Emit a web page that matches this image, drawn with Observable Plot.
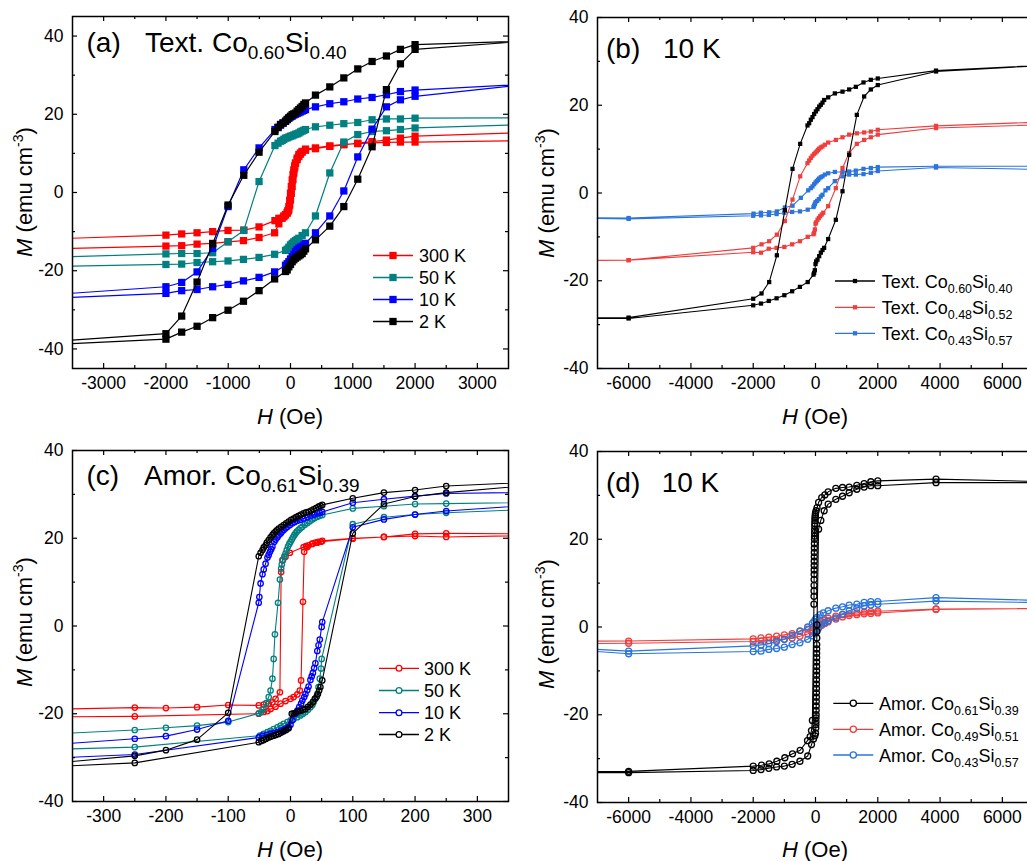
<!DOCTYPE html>
<html><head><meta charset="utf-8">
<script src="https://cdn.jsdelivr.net/npm/d3@7"></script>
<script src="https://cdn.jsdelivr.net/npm/@observablehq/plot@0.6"></script>
<style>
html,body{margin:0;padding:0;background:#fff;}
body{width:1027px;height:861px;overflow:hidden;position:relative;font-family:"Liberation Sans",Arial,sans-serif;}
.pan{position:absolute;}
</style></head><body>
<script>
const FONT = '"Liberation Sans", Arial, sans-serif';

// ---------- Panel (a): Text. Co0.60Si0.40, squares ----------
const aXMajor = [-3000,-2000,-1000,0,1000,2000,3000];
const aXMinor = [-2500,-1500,-500,500,1500,2500];
const aYMajor = [-40,-20,0,20,40];
const aYMinor = [-30,-10,10,30];
const aLegend = ["300 K","50 K","10 K","2 K"];

const a300Desc = [[3870,15.4],[2000,14.4],[1765,13.9],[1540,13.4],[1310,13.0],[1080,12.6],[856,12.2],[631,11.8],[401,11.2],[241,10.8],[187,10.3],[160,9.8],[134,9.2],[107,8.4],[80,7.5],[67,6.8],[53,5.8],[40,4.6],[27,3.2],[13,1.5],[0,-0.2],[-13,-2.0],[-27,-3.6],[-40,-4.6],[-53,-5.3],[-80,-5.7],[-107,-6.0],[-187,-6.6],[-250,-7.2],[-505,-8.8],[-750,-9.6],[-1003,-9.7],[-1250,-10.0],[-1500,-10.3],[-1747,-10.6],[-2000,-10.9],[-6000,-13.0]];
const a300Asc = [[-6000,-15.3],[-2000,-13.7],[-1747,-13.6],[-1500,-13.2],[-1250,-13.0],[-1003,-12.6],[-755,-12.3],[-505,-11.5],[-255,-10.3],[-187,-8.0],[-134,-6.6],[-107,-6.2],[-80,-5.7],[-53,-5.1],[-40,-4.8],[-27,-4.4],[-13,-3.2],[0,-1.9],[13,-0.2],[27,1.5],[40,3.3],[53,5.0],[67,6.3],[80,7.5],[107,8.8],[134,9.7],[160,10.1],[187,10.5],[241,11.1],[401,11.4],[631,11.9],[856,12.3],[1080,12.5],[1310,12.7],[1540,12.8],[1765,12.9],[2000,12.9],[3870,13.3]];
const a50Desc = [[3870,19.1],[2000,19.0],[1765,18.8],[1540,18.8],[1310,18.6],[1080,17.9],[856,17.6],[631,17.2],[401,16.8],[241,16.1],[214,15.9],[187,15.7],[160,15.5],[134,15.2],[107,15.0],[80,14.9],[53,14.7],[27,14.5],[0,14.4],[-27,14.2],[-53,14.0],[-80,13.9],[-107,13.6],[-134,13.3],[-160,13.1],[-200,12.6],[-250,12.0],[-505,2.8],[-750,-9.7],[-1003,-12.6],[-1250,-15.4],[-1500,-15.6],[-1747,-15.6],[-2000,-15.7],[-6000,-17.6]];
const a50Asc = [[-6000,-19.5],[-2000,-18.4],[-1747,-18.3],[-1500,-17.9],[-1250,-17.7],[-1003,-17.5],[-755,-17.1],[-505,-16.6],[-255,-15.8],[-80,-14.8],[-53,-14.5],[-27,-14.0],[0,-13.4],[27,-13.0],[53,-12.6],[80,-12.3],[107,-12.0],[134,-11.7],[187,-11.0],[241,-10.3],[401,-6.0],[631,5.0],[856,12.9],[1080,14.8],[1310,15.6],[1540,15.8],[1765,16.1],[2000,16.5],[3870,17.4]];
const a10Desc = [[3870,27.8],[2000,26.2],[1765,25.8],[1540,25.0],[1310,24.3],[1080,23.9],[856,23.2],[631,22.7],[401,21.9],[241,21.2],[214,21.0],[187,20.8],[160,20.6],[134,20.4],[107,20.2],[80,20.0],[53,19.8],[27,19.5],[0,19.3],[-27,19.0],[-53,18.6],[-80,18.2],[-120,17.7],[-160,17.2],[-200,16.7],[-250,16.1],[-505,11.4],[-750,5.8],[-1003,-3.6],[-1250,-14.3],[-1500,-20.3],[-1747,-23.0],[-2000,-24.1],[-6000,-28.5]];
const a10Asc = [[-6000,-28.5],[-2000,-25.8],[-1747,-25.1],[-1500,-24.8],[-1250,-24.1],[-1003,-23.5],[-755,-22.6],[-505,-21.7],[-255,-20.3],[-80,-18.6],[-53,-18.2],[-27,-17.7],[0,-17.0],[27,-16.4],[53,-15.8],[80,-15.1],[107,-14.6],[134,-14.2],[160,-14.0],[187,-13.8],[214,-13.4],[241,-13.0],[401,-10.3],[631,-6.0],[856,0.4],[1080,9.1],[1310,16.2],[1540,21.9],[1765,23.7],[2000,24.6],[3870,27.8]];
const a2Desc = [[3870,38.8],[2000,37.8],[1765,36.6],[1540,34.9],[1310,33.5],[1080,31.6],[856,29.3],[631,27.0],[401,24.9],[241,22.9],[214,22.5],[187,22.0],[160,21.6],[134,21.2],[107,20.8],[80,20.3],[53,20.1],[27,19.9],[0,19.5],[-27,19.1],[-53,18.7],[-80,18.2],[-120,17.8],[-160,17.4],[-200,16.6],[-250,15.6],[-505,10.3],[-750,4.4],[-1003,-3.2],[-1250,-13.1],[-1500,-22.9],[-1747,-31.6],[-2000,-36.1],[-6000,-40.5]];
const a2Asc = [[-6000,-40.5],[-2000,-37.5],[-1747,-35.7],[-1500,-34.2],[-1250,-32.0],[-1003,-30.1],[-755,-27.8],[-505,-25.1],[-255,-22.1],[-80,-20.2],[-53,-19.8],[-27,-19.0],[0,-18.4],[27,-17.7],[53,-17.2],[80,-16.8],[107,-16.5],[134,-16.2],[160,-15.9],[187,-15.6],[214,-15.0],[241,-14.4],[401,-12.1],[631,-8.6],[856,-3.6],[1080,3.4],[1310,11.7],[1540,26.3],[1765,32.9],[2000,36.6],[3870,38.8]];

// ---------- Panel (b): Text. series at 10 K ----------
const bXMajor = [-6000,-4000,-2000,0,2000,4000,6000];
const bXMinor = [-5000,-3000,-1000,1000,3000,5000];
const bYMajor = [-40,-20,0,20,40];
const bYMinor = [-30,-10,10,30];
const bLegend = [["Text. Co","0.60","Si","0.40"],["Text. Co","0.48","Si","0.52"],["Text. Co","0.43","Si","0.57"]];

const bBlackDesc = [[10000,30.1],[3870,27.9],[2000,26.1],[1776,25.8],[1541,25.2],[1295,24.2],[1081,23.6],[867,23.1],[621,22.7],[407,21.8],[278,21.2],[225,20.6],[171,20.1],[118,19.7],[64,19.1],[11,18.6],[-43,18.0],[-96,17.3],[-150,16.7],[-203,15.9],[-257,15.4],[-492,11.2],[-738,5.5],[-984,-3.9],[-1241,-14.2],[-1487,-20.3],[-1733,-22.9],[-2000,-24.1],[-6000,-28.4],[-10000,-28.5]];
const bBlackAsc = [[-10000,-28.5],[-6000,-28.6],[-2000,-25.6],[-1750,-25.2],[-1500,-24.6],[-1250,-24.0],[-1000,-23.3],[-750,-22.4],[-500,-21.4],[-250,-20.3],[-64,-18.6],[-43,-18.2],[-21,-17.6],[0,-16.2],[21,-15.6],[64,-15.2],[118,-14.4],[171,-13.6],[225,-13.0],[278,-12.5],[407,-10.5],[653,-6.1],[867,0.4],[1081,8.7],[1327,17.8],[1562,22.0],[1776,23.6],[2000,24.6],[3870,27.7],[10000,30.1]];
const bRedDesc = [[10000,16.9],[3870,15.3],[2000,14.4],[1776,14.0],[1562,13.8],[1327,13.6],[1081,13.3],[867,12.7],[653,12.1],[407,11.5],[300,11.0],[225,10.6],[171,10.4],[118,10.1],[80,9.8],[43,9.5],[0,9.2],[-43,8.9],[-96,8.5],[-150,8.0],[-203,7.4],[-257,6.8],[-492,3.8],[-738,-1.5],[-984,-6.4],[-1241,-9.5],[-1487,-11.0],[-1733,-11.7],[-2000,-12.5],[-6000,-15.3],[-10000,-15.5]];
const bRedAsc = [[-10000,-15.5],[-6000,-15.3],[-2000,-13.5],[-1750,-13.6],[-1500,-12.7],[-1250,-12.5],[-1000,-12.3],[-750,-11.7],[-500,-11.0],[-250,-10.0],[-64,-9.4],[-43,-9.1],[-21,-8.3],[0,-7.0],[21,-6.7],[64,-6.1],[107,-5.7],[150,-5.3],[200,-4.9],[250,-4.5],[407,-3.0],[653,1.1],[867,5.7],[1081,9.1],[1327,11.2],[1562,12.1],[1776,12.7],[2000,13.3],[3870,14.8],[10000,16.2]];
const bBlueDesc = [[10000,6.1],[3870,6.1],[2000,5.9],[1776,5.7],[1541,5.5],[1295,5.1],[1081,4.9],[867,4.8],[621,4.8],[407,4.5],[300,4.2],[225,3.8],[171,3.6],[118,3.3],[80,3.0],[43,2.7],[0,2.4],[-43,2.0],[-96,1.5],[-150,1.1],[-235,0.6],[-471,-1.1],[-738,-2.9],[-984,-3.3],[-1241,-4.2],[-1487,-4.4],[-1755,-4.5],[-1990,-4.7],[-6000,-5.7],[-10000,-5.5]];
const bBlueAsc = [[-10000,-5.5],[-6000,-5.9],[-2000,-5.2],[-1750,-5.1],[-1500,-5.0],[-1250,-4.8],[-1000,-4.5],[-750,-4.3],[-500,-4.2],[-250,-3.8],[-64,-3.2],[-43,-2.9],[-21,-2.5],[0,-2.1],[53,-1.8],[107,-1.4],[171,-0.8],[225,-0.4],[320,0.6],[407,1.1],[621,2.7],[867,3.8],[1081,4.2],[1295,4.2],[1541,4.3],[1776,4.6],[2000,5.0],[3870,5.8],[10000,5.0]];

// ---------- Panel (c): Amor. Co0.61Si0.39, circles ----------
const cXMajor = [-300,-200,-100,0,100,200,300];
const cXMinor = [-250,-150,-50,50,150,250];
const cYMajor = [-40,-20,0,20,40];
const cYMinor = [-30,-10,10,30];
const cLegend = ["300 K","50 K","10 K","2 K"];

const cRedDesc = [[500,20.9],[250,21.1],[200,21.0],[150,20.3],[100,20.0],[51,19.4],[45,19.2],[40,19.0],[35,18.8],[29,18.4],[25,18.2],[21,18.0],[-1,16.7],[-8,15.8],[-13,15.0],[-15,12.3],[-17,-15.1],[-24,-16.6],[-29,-17.4],[-35,-17.7],[-43,-17.9],[-51,-18.1],[-100,-18.0],[-150,-18.5],[-200,-18.7],[-250,-18.6],[-500,-19.3]];
const cRedAsc = [[-500,-20.8],[-250,-20.6],[-51,-20.0],[-43,-19.6],[-37,-19.4],[-32,-18.9],[-24,-18.4],[-16,-17.7],[-8,-17.1],[0,-16.6],[5,-16.2],[11,-15.6],[15,-14.7],[17,-12.4],[20,5.5],[22,16.9],[27,18.0],[35,18.7],[43,19.0],[49,19.2],[100,19.9],[150,20.3],[200,20.5],[250,20.3],[500,20.9]];
const cTealDesc = [[500,28.4],[250,27.9],[200,27.8],[150,27.3],[100,26.8],[51,25.3],[47,25.1],[43,24.9],[39,24.6],[35,24.3],[31,23.9],[27,23.5],[23,23.1],[19,22.6],[16,22.3],[13,21.9],[10,21.5],[8,21.1],[6,20.7],[4,20.2],[2,19.7],[0,19.2],[-2,18.7],[-4,18.1],[-6,17.3],[-8,16.5],[-10,15.8],[-12,15.0],[-14,14.0],[-15,13.1],[-17,10.6],[-20,5.3],[-25,-1.9],[-27,-7.5],[-29,-12.0],[-32,-14.7],[-35,-16.2],[-39,-17.6],[-43,-18.9],[-47,-19.6],[-51,-19.9],[-100,-21.9],[-150,-22.7],[-200,-23.2],[-250,-23.7],[-500,-25.4]];
const cTealAsc = [[-500,-28.6],[-250,-27.6],[-49,-25.0],[-43,-24.6],[-37,-24.2],[-32,-23.9],[-27,-23.5],[-21,-23.1],[-16,-22.7],[-11,-22.3],[-5,-21.9],[0,-21.5],[5,-21.2],[11,-20.8],[16,-20.4],[20,-20.0],[24,-19.6],[28,-19.1],[32,-18.5],[35,-18.0],[37,-17.4],[40,-16.6],[43,-15.5],[45,-13.9],[47,-12.0],[49,-9.7],[50,-7.5],[100,23.2],[150,24.8],[200,25.4],[250,25.8],[500,27.3]];
const cBlueDesc = [[500,30.7],[250,30.2],[200,29.6],[150,28.9],[100,28.1],[51,26.0],[47,25.8],[43,25.7],[38,25.4],[32,25.1],[27,24.8],[21,24.5],[16,24.2],[11,24.0],[7,23.7],[3,23.4],[-1,23.0],[-5,22.6],[-8,22.3],[-11,21.9],[-14,21.5],[-16,21.1],[-19,20.7],[-21,20.2],[-24,19.7],[-26,19.2],[-29,18.1],[-31,17.5],[-33,16.9],[-35,16.2],[-37,15.6],[-40,14.2],[-43,12.9],[-45,11.8],[-48,9.7],[-50,6.6],[-51,5.3],[-100,-21.6],[-150,-23.6],[-200,-25.1],[-250,-25.7],[-500,-28.2]];
const cBlueAsc = [[-500,-30.8],[-250,-29.3],[-51,-25.4],[-45,-25.0],[-38,-24.8],[-32,-24.6],[-27,-24.4],[-21,-24.2],[-16,-23.9],[-11,-23.6],[-7,-23.3],[-3,-23.0],[0,-22.5],[3,-21.5],[8,-20.0],[11,-19.3],[14,-18.5],[17,-17.7],[19,-17.0],[22,-16.2],[24,-15.5],[27,-14.6],[29,-13.8],[32,-12.3],[34,-11.5],[36,-10.7],[38,-9.6],[40,-8.5],[43,-5.7],[45,-4.4],[47,-3.1],[50,-0.2],[51,0.9],[100,22.5],[150,24.3],[200,25.4],[250,26.2],[500,28.7]];
const cBlackDesc = [[500,33.5],[250,31.9],[200,31.0],[150,30.4],[100,29.1],[51,27.6],[48,27.4],[45,27.2],[41,26.9],[37,26.6],[33,26.3],[29,26.0],[25,25.9],[21,25.7],[17,25.4],[13,25.1],[9,24.8],[5,24.5],[1,24.2],[-3,23.8],[-7,23.4],[-11,23.0],[-15,22.6],[-19,22.2],[-22,21.8],[-24,21.5],[-27,21.1],[-29,20.7],[-32,20.2],[-35,19.6],[-38,19.0],[-40,18.4],[-43,17.9],[-45,17.3],[-48,16.7],[-51,15.9],[-100,-19.8],[-150,-25.9],[-200,-28.3],[-250,-29.6],[-500,-32.8]];
const cBlackAsc = [[-500,-32.8],[-250,-31.2],[-51,-26.5],[-47,-26.2],[-43,-26.0],[-39,-25.7],[-35,-25.4],[-31,-25.2],[-27,-25.0],[-23,-24.8],[-19,-24.6],[-15,-24.3],[-11,-24.0],[-7,-23.7],[-3,-23.3],[2,-20.0],[5,-19.9],[8,-19.8],[12,-19.5],[16,-19.3],[20,-19.1],[24,-18.9],[28,-18.4],[32,-17.9],[36,-17.3],[39,-16.6],[42,-16.1],[44,-15.5],[46,-14.7],[48,-13.9],[51,-12.4],[100,21.1],[150,27.8],[200,29.5],[250,30.4],[500,33.5]];

// ---------- Panel (d): Amor. series at 10 K ----------
const dXMajor = [-6000,-4000,-2000,0,2000,4000,6000];
const dXMinor = [-5000,-3000,-1000,1000,3000,5000];
const dYMajor = [-40,-20,0,20,40];
const dYMinor = [-30,-10,10,30];
const dLegend = [["Amor. Co","0.61","Si","0.39"],["Amor. Co","0.49","Si","0.51"],["Amor. Co","0.43","Si","0.57"]];

const dBlackDesc = [[10000,32.7],[3870,33.7],[2000,33.3],[1776,33.1],[1562,32.7],[1327,32.3],[1081,31.9],[867,31.8],[653,31.6],[407,30.8],[300,30.1],[200,29.5],[100,28.4],[50,27.2],[20,26.5],[0,26.0],[-5,25.6],[-10,25.2],[-15,24.8],[-20,24.3],[-23,23.6],[-25,23.0],[-28,22.2],[-30,21.5],[-32,20.7],[-33,20.0],[-35,19.0],[-36,18.0],[-38,17.0],[-39,16.0],[-41,15.0],[-42,14.0],[-43,13.0],[-44,12.0],[-45,10.8],[-46,9.5],[-47,8.2],[-48,7.0],[-50,5.2],[-100,-21.3],[-130,-23.6],[-171,-25.0],[-257,-25.9],[-492,-28.1],[-738,-28.9],[-984,-29.8],[-1241,-30.6],[-1487,-31.2],[-1733,-31.5],[-2000,-31.7],[-6000,-32.9],[-10000,-33.0]];
const dBlackAsc = [[-10000,-33.2],[-6000,-33.2],[-2000,-32.7],[-1750,-32.5],[-1500,-32.2],[-1250,-31.9],[-1000,-31.7],[-750,-31.3],[-500,-30.6],[-250,-29.4],[-128,-26.8],[-64,-25.5],[-20,-24.8],[0,-24.2],[10,-23.0],[13,-22.2],[15,-21.5],[18,-20.7],[20,-20.0],[22,-19.0],[24,-18.0],[26,-17.0],[28,-16.0],[29,-15.0],[30,-14.0],[31,-13.0],[32,-12.0],[33,-11.0],[34,-10.0],[35,-9.0],[36,-8.0],[37,-7.0],[38,-6.0],[39,-5.0],[40,-4.0],[42,-2.5],[45,-1.0],[48,0.5],[100,22.3],[171,24.3],[278,26.5],[407,28.0],[653,29.1],[867,29.8],[1081,30.6],[1327,31.4],[1562,31.9],[1776,32.2],[2000,32.2],[3870,32.9],[10000,32.9]];
const dRedDesc = [[10000,4.4],[3870,4.1],[2000,3.6],[1776,3.5],[1562,3.4],[1327,3.2],[1081,3.0],[867,2.8],[653,2.5],[407,2.0],[300,1.6],[200,1.2],[100,0.8],[0,0.3],[-100,-0.1],[-250,-0.5],[-500,-1.0],[-750,-1.5],[-1000,-1.8],[-1250,-2.1],[-1500,-2.3],[-1750,-2.5],[-2000,-2.7],[-6000,-3.2],[-10000,-3.3]];
const dRedAsc = [[-10000,-3.9],[-6000,-3.7],[-2000,-3.3],[-1750,-3.2],[-1500,-3.1],[-1250,-3.0],[-1000,-2.8],[-750,-2.5],[-500,-2.1],[-250,-1.6],[-100,-1.1],[0,-0.6],[100,-0.1],[200,0.4],[300,0.8],[407,1.2],[653,1.8],[867,2.3],[1081,2.6],[1327,2.8],[1562,3.0],[1776,3.1],[2000,3.2],[3870,4.0],[10000,4.4]];
const dBlueDesc = [[10000,5.5],[3870,6.7],[2000,5.8],[1776,5.8],[1562,5.6],[1327,5.2],[1081,5.0],[867,4.6],[653,4.3],[407,3.7],[250,3.2],[150,2.8],[50,2.2],[0,1.8],[-50,1.3],[-100,0.8],[-250,0.0],[-500,-0.9],[-750,-1.9],[-1000,-2.8],[-1250,-3.3],[-1500,-3.8],[-1750,-4.1],[-2000,-4.3],[-6000,-5.5],[-10000,-3.9]];
const dBlueAsc = [[-10000,-4.1],[-6000,-6.1],[-2000,-5.6],[-1750,-5.5],[-1500,-5.1],[-1250,-4.9],[-1000,-4.6],[-750,-4.0],[-500,-3.6],[-250,-2.8],[-100,-2.0],[0,-1.4],[50,-0.8],[100,-0.2],[200,0.6],[300,1.0],[407,1.4],[653,2.1],[867,2.9],[1081,3.7],[1327,4.3],[1562,4.8],[1776,5.0],[2000,5.2],[3870,5.9],[10000,5.3]];

// ---------- colours ----------
const aColors = ["#ff0000","#008080","#0000ff","#000000"];
const bColors = ["#000000","#ef3e3e","#2a74dc"];

// ---------- drawing ----------
function plotPanel(o) {
  const ih = o.height - o.mt - o.mb, iw = o.width - o.ml - o.mr;
  const marks = [];
  for (const s of o.series) {
    const rows = s.desc.concat(s.asc).map(([h, m]) => ({h, m}));
    marks.push(Plot.line(rows, {x: "h", y: "m", stroke: s.color, strokeWidth: o.lineWidth, clip: true}));
    if (o.open) {
      marks.push(Plot.dot(rows, {x: "h", y: "m", r: o.r, fill: "none", stroke: s.color, strokeWidth: 1.3, clip: true}));
    } else {
      marks.push(Plot.dot(rows, {x: "h", y: "m", r: o.r, symbol: "square", fill: s.color, stroke: "none", clip: true}));
    }
  }
  const tw = 1.2;
  marks.push(
    Plot.tickX(o.xMajor, {x: d => d, insetTop: ih - 5, strokeWidth: tw}),
    Plot.tickX(o.xMajor, {x: d => d, insetBottom: ih - 5, strokeWidth: tw}),
    Plot.tickX(o.xMinor, {x: d => d, insetTop: ih - 3, strokeWidth: tw}),
    Plot.tickX(o.xMinor, {x: d => d, insetBottom: ih - 3, strokeWidth: tw}),
    Plot.tickY(o.yMajor, {y: d => d, insetRight: iw - 5, strokeWidth: tw}),
    Plot.tickY(o.yMajor, {y: d => d, insetLeft: iw - 5, strokeWidth: tw}),
    Plot.tickY(o.yMinor, {y: d => d, insetRight: iw - 3, strokeWidth: tw}),
    Plot.tickY(o.yMinor, {y: d => d, insetLeft: iw - 3, strokeWidth: tw}),
    Plot.axisX(o.xMajor, {anchor: "bottom", tickSize: 0, tickPadding: 8, fontSize: 17.5, tickFormat: d => String(d), label: null}),
    Plot.axisY(o.yMajor, {anchor: "left", tickSize: 0, tickPadding: 9, fontSize: 17.5, tickFormat: d => String(d), label: null}),
    Plot.frame({stroke: "black", strokeWidth: 1.5})
  );
  const svg = Plot.plot({
    width: o.width, height: o.height,
    marginTop: o.mt, marginRight: o.mr, marginBottom: o.mb, marginLeft: o.ml,
    x: {domain: o.xDomain, type: "linear"},
    y: {domain: o.yDomain, type: "linear"},
    style: {fontFamily: FONT, color: "black", background: "transparent", maxWidth: "none", overflow: "visible"},
    marks
  });
  const div = document.createElement("div");
  div.className = "pan";
  div.style.left = o.left + "px";
  div.style.top = o.top + "px";
  div.style.width = o.width + "px";
  div.style.height = o.height + "px";
  div.appendChild(svg);
  document.body.appendChild(div);
}

plotPanel({left: 0, top: 0, width: 520, height: 430, mt: 16, mr: 12, mb: 62, ml: 72,
  xDomain: [-3500, 3500], yDomain: [-45, 45],
  xMajor: aXMajor, xMinor: aXMinor, yMajor: aYMajor, yMinor: aYMinor,
  open: false, r: 4.1, lineWidth: 1.2,
  series: [
    {color: aColors[0], desc: a300Desc, asc: a300Asc},
    {color: aColors[1], desc: a50Desc, asc: a50Asc},
    {color: aColors[2], desc: a10Desc, asc: a10Asc},
    {color: aColors[3], desc: a2Desc, asc: a2Asc}
  ]});

plotPanel({left: 520, top: 0, width: 520, height: 430, mt: 17, mr: 7, mb: 62, ml: 77,
  xDomain: [-7000, 7000], yDomain: [-40, 40],
  xMajor: bXMajor, xMinor: bXMinor, yMajor: bYMajor, yMinor: bYMinor,
  open: false, r: 2.4, lineWidth: 1.1,
  series: [
    {color: bColors[2], desc: bBlueDesc, asc: bBlueAsc},
    {color: bColors[1], desc: bRedDesc, asc: bRedAsc},
    {color: bColors[0], desc: bBlackDesc, asc: bBlackAsc}
  ]});

plotPanel({left: 0, top: 430, width: 520, height: 431, mt: 20, mr: 12, mb: 60, ml: 72,
  xDomain: [-350, 350], yDomain: [-40, 40],
  xMajor: cXMajor, xMinor: cXMinor, yMajor: cYMajor, yMinor: cYMinor,
  open: true, r: 2.7, lineWidth: 1.1,
  series: [
    {color: aColors[0], desc: cRedDesc, asc: cRedAsc},
    {color: aColors[1], desc: cTealDesc, asc: cTealAsc},
    {color: aColors[2], desc: cBlueDesc, asc: cBlueAsc},
    {color: aColors[3], desc: cBlackDesc, asc: cBlackAsc}
  ]});

plotPanel({left: 520, top: 430, width: 520, height: 431, mt: 21, mr: 7, mb: 59, ml: 77,
  xDomain: [-7000, 7000], yDomain: [-40, 40],
  xMajor: dXMajor, xMinor: dXMinor, yMajor: dYMajor, yMinor: dYMinor,
  open: true, r: 3.0, lineWidth: 1.1,
  series: [
    {color: bColors[1], desc: dRedDesc, asc: dRedAsc},
    {color: bColors[2], desc: dBlueDesc, asc: dBlueAsc},
    {color: bColors[0], desc: dBlackDesc, asc: dBlackAsc}
  ]});

// ---------- overlay: titles, panel labels, legends ----------
const ov = d3.select("body").append("svg")
  .attr("width", 1027).attr("height", 861)
  .style("position", "absolute").style("left", "0px").style("top", "0px")
  .style("pointer-events", "none")
  .attr("font-family", FONT).attr("fill", "black");

function chem(x, y, parts, size, subSize, dy, anchor) {
  const t = ov.append("text").attr("x", x).attr("y", y).attr("font-size", size).attr("text-anchor", anchor || "start");
  let sub = false;
  parts.forEach((p, i) => {
    const isSub = i % 2 === 1;
    const ts = t.append("tspan").text(p).attr("font-size", isSub ? subSize : size);
    if (isSub && !sub) ts.attr("dy", dy);
    if (!isSub && sub) ts.attr("dy", -dy);
    sub = isSub;
  });
  return t;
}
function plain(x, y, s, size, anchor) {
  return ov.append("text").attr("x", x).attr("y", y).attr("font-size", size).attr("text-anchor", anchor || "start").text(s);
}
function xTitle(cx, y) {
  const t = ov.append("text").attr("x", cx).attr("y", y).attr("font-size", 22).attr("text-anchor", "middle");
  t.append("tspan").attr("font-style", "italic").text("H");
  t.append("tspan").text(" (Oe)");
}
function yTitle(x, cy) {
  const t = ov.append("text").attr("transform", `translate(${x},${cy}) rotate(-90)`).attr("font-size", 22).attr("text-anchor", "middle");
  t.append("tspan").attr("font-style", "italic").text("M");
  t.append("tspan").text(" (emu cm");
  t.append("tspan").attr("font-size", 14).attr("dy", -9).text("-3");
  t.append("tspan").attr("dy", 9).text(")");
}

// panel labels
plain(86.5, 52, "(a)", 28);
chem(145, 52, ["Text. Co", "0.60", "Si", "0.40"], 28, 19, 6.5);
plain(606, 57.5, "(b)", 28);
plain(663, 57.5, "10 K", 28);
plain(86.5, 485, "(c)", 28);
chem(144, 485, ["Amor. Co", "0.61", "Si", "0.39"], 28, 19, 6.5);
plain(606, 492, "(d)", 28);
plain(661.7, 492, "10 K", 28);

// axis titles
xTitle(290, 424); xTitle(815, 424); xTitle(290, 857); xTitle(815, 857);
yTitle(31.5, 192); yTitle(554, 193); yTitle(31.5, 622); yTitle(554, 624);

// legends
function legendRow(x0, x1, y, color, kind, size) {
  ov.append("line").attr("x1", x0).attr("x2", x1).attr("y1", y).attr("y2", y).attr("stroke", color).attr("stroke-width", 1.3);
  const cx = (x0 + x1) / 2;
  if (kind === "square") {
    ov.append("rect").attr("x", cx - size / 2).attr("y", y - size / 2).attr("width", size).attr("height", size).attr("fill", color);
  } else {
    ov.append("circle").attr("cx", cx).attr("cy", y).attr("r", size).attr("fill", "white").attr("stroke", color).attr("stroke-width", 1.3);
  }
}
const aRows = [255.5, 277.5, 299.5, 321.5];
aLegend.forEach((s, i) => {
  legendRow(373, 413, aRows[i], aColors[i], "square", 7.3);
  plain(419, aRows[i] + 6.5, s, 18);
});
const bRows = [281, 307.3, 333.3];
bLegend.forEach((p, i) => {
  legendRow(835, 875, bRows[i], bColors[i], "square", 4.3);
  chem(881.7, bRows[i] + 6.5, p, 18, 12.5, 5);
});
const cRows = [668.3, 690.5, 712.7, 734.5];
cLegend.forEach((s, i) => {
  legendRow(379, 419, cRows[i], aColors[i], "circle", 2.9);
  plain(424, cRows[i] + 6.5, s, 18);
});
const dRows = [703.3, 729.3, 755];
dLegend.forEach((p, i) => {
  legendRow(833.3, 873.3, dRows[i], bColors[i], "circle", 3.1);
  chem(879, dRows[i] + 6.5, p, 18, 12.5, 5);
});
</script>
</body></html>
